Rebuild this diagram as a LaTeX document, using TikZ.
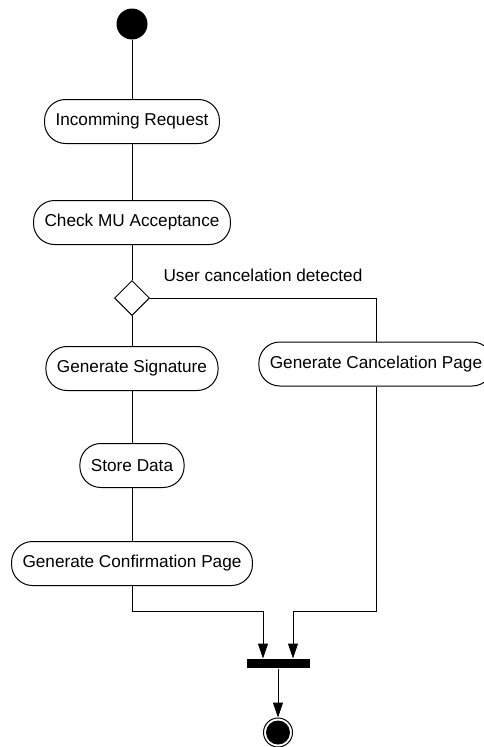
\documentclass[tikz,border=0pt]{standalone}
\usepackage{fontspec}
\setmainfont{Liberation Sans}
\usetikzlibrary{shapes.geometric, arrows.meta, positioning}

\begin{document}
\begin{tikzpicture}[
    x=1pt, y=-1pt,
    line width=1pt,
    action/.style={rectangle, rounded corners=21pt, draw, minimum height=44pt,
        inner xsep=11pt, font=\fontsize{17.2}{20}\selectfont},
    initial/.style={circle, fill=black, minimum size=31pt, inner sep=0pt},
    final/.style={circle, draw, minimum size=29pt, inner sep=0pt,
        path picture={\fill (path picture bounding box.center) circle (12pt);}},
    decision/.style={diamond, draw, minimum width=35pt, minimum height=35pt, inner sep=0pt},
    syncbar/.style={rectangle, fill=black, minimum width=63pt, minimum height=9pt, inner sep=0pt},
    guard/.style={font=\fontsize{17.2}{20}\selectfont, anchor=west, inner sep=0pt},
    arr/.style={-{Triangle[length=15pt, width=10pt]}},
]
\useasboundingbox (0,0) rectangle (483,747);

% main flow
\node[initial] (start) at (132,24) {};
\node[action, below=59pt of start] (req) {Incomming Request};
\node[action, below=56pt of req] (chk) {Check MU Acceptance};
\node[decision, below=35pt of chk] (dec) {};
\node[action, below=30pt of dec] (sig) {Generate Signature};
\node[action, below=52pt of sig] (store) {Store Data};
\node[action, below=53pt of store] (conf) {Generate Confirmation Page};

% cancel branch
\node[action] (canc) at (376,364) {Generate Cancelation Page};
\node[guard] (lbl) at (163,275) {User cancelation detected};

% join and end
\node[syncbar] (join) at (278,663.5) {};
\node[final] (end) at (278,732.5) {};
\coordinate (merge) at (0,611);
\coordinate (inL) at ([xshift=-15pt]join.north);
\coordinate (inR) at ([xshift=15pt]join.north);

\draw (start) -- (req);
\draw (req) -- (chk);
\draw (chk) -- (dec);
\draw (dec) -- (sig);
\draw (sig) -- (store);
\draw (store) -- (conf);
\draw (dec.east) -| (canc.north);
\draw[arr] (conf.south) -- (conf.south |- merge) -| (inL);
\draw[arr] (canc.south) -- (canc.south |- merge) -| (inR);
\draw[arr] (join) -- (end);
\end{tikzpicture}
\end{document}
